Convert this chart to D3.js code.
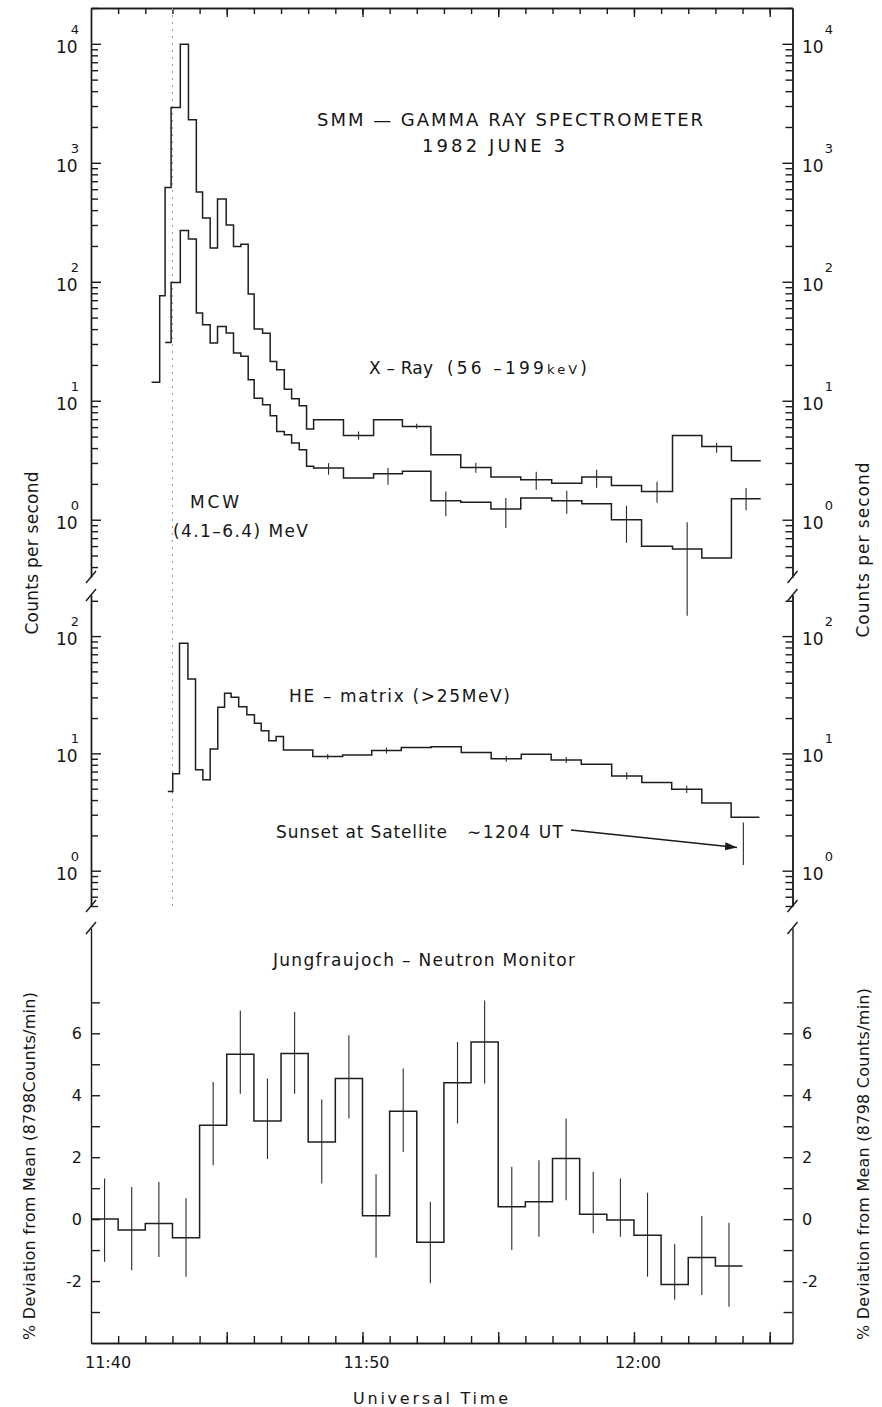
<!doctype html>
<html lang='en'>
<head>
<meta charset='UTF-8'>
<title>SMM Gamma Ray Spectrometer 1982 June 3</title>
<style>
  body { margin: 0; background: #fff; }
  svg { display: block; }
  text { font-family: 'DejaVu Sans', sans-serif; fill: #161616; }
  .domain, .tick line { stroke: #1a1a1a; stroke-width: 1.4; }
  .step { fill: none; stroke: #1e1e1e; stroke-width: 1.5; }
  .err { stroke: #2a2a2a; stroke-width: 1.1; }
  .brk { stroke: #1a1a1a; stroke-width: 1.4; }
</style>
</head>
<body>
<script src='https://d3js.org/d3.v7.min.js'></script>
<script>
  // all times are minutes after 11:40 UT
  const timeTickMinutes = [0, 10, 20]
  const timeTickLabels = ['11:40', '11:50', '12:00']
  const markerMinute = 3

  // SMM GRS bins (16 s, then 65 s)
  const grsEdges = [2.23, 2.53, 2.73, 2.95, 3.29, 3.59, 3.88, 4.11, 4.39, 4.66, 4.98, 5.25, 5.52, 5.79, 6.01, 6.32,
    6.60, 6.84, 7.12, 7.39, 7.67, 7.94, 8.20, 9.30, 10.41, 11.47, 12.52, 13.62, 14.73, 15.83, 16.97, 18.08,
    19.17, 20.28, 21.42, 22.50, 23.59, 24.67]
  const xrayCounts = [14.3, 76.3, 620, 2917, 9940, 2297, 567, 343, 192, 495, 300, 198, 207, 79, 40, 37, 21.4,
    18.2, 12.5, 10.4, 9.08, 5.78, 6.92, 5.11, 6.92, 6.08, 3.52, 2.75, 2.29, 2.17, 2.03, 2.29, 1.94, 1.73,
    5.11, 4.13, 3.13]
  const mcwCounts = [null, null, 30.9, 98.7, 270, 229, 54.6, 43.5, 30.5, 42.1, 37.1, 25.2, 23.6, 15.0, 10.5,
    9.25, 7.48, 5.52, 5.18, 4.41, 3.88, 2.81, 2.72, 2.24, 2.44, 2.55, 1.44, 1.40, 1.23, 1.52, 1.44, 1.36,
    1.0, 0.597, 0.567, 0.477, 1.50]
  // [bin, low, high]
  const xrayErr = [[23, 4.70, 5.52], [25, 5.82, 6.41], [27, 2.48, 3.01], [29, 1.79, 2.53], [31, 1.86, 2.63],
    [33, 1.39, 2.09], [35, 3.66, 4.44]]
  const mcwErr = [[22, 2.39, 2.99], [24, 1.97, 2.72], [26, 1.07, 1.73], [28, 0.85, 1.52], [30, 1.12, 1.75],
    [32, 0.64, 1.31], [34, 0.156, 0.95], [36, 1.20, 1.85]]

  const heEdges = [2.83, 3.01, 3.26, 3.57, 3.85, 4.12, 4.39, 4.67, 4.92, 5.16, 5.44, 5.74, 6.02, 6.27, 6.55,
    6.82, 7.09, 8.17, 9.27, 10.34, 11.43, 12.53, 13.64, 14.74, 15.85, 16.95, 18.06, 19.18, 20.29, 21.39,
    22.50, 23.58, 24.62]
  const heCounts = [4.73, 6.69, 86.7, 43.1, 7.24, 5.95, 10.9, 24.7, 32.5, 30.1, 25.0, 21.3, 18.1, 15.6, 12.8,
    13.9, 10.7, 9.4, 9.7, 10.6, 11.2, 11.4, 10.2, 8.98, 9.84, 8.80, 8.09, 6.43, 5.64, 4.95, 3.77, 2.86]
  const heErr = [[17, 8.9, 9.9], [19, 10.0, 11.2], [23, 8.5, 9.5], [25, 8.3, 9.3], [27, 6.0, 6.9], [29, 4.6, 5.3]]
  const sunsetBar = [24.03, 1.12, 2.58]

  // Jungfraujoch neutron monitor, 1-min bins
  const neutronEdges = [0, 1, 2, 3, 4, 5, 6, 7, 8, 9, 10, 11, 12, 13, 14, 15, 16, 17, 18, 19, 20, 21, 22, 23, 24]
  const neutronDev = [0.0, -0.35, -0.14, -0.60, 3.03, 5.32, 3.17, 5.35, 2.49, 4.54, 0.11, 3.48, -0.75, 4.40,
    5.72, 0.40, 0.56, 1.96, 0.16, -0.03, -0.52, -2.11, -1.24, -1.51]
  const neutronHi = [1.31, 1.04, 1.2, 0.67, 4.43, 6.74, 4.54, 6.69, 3.86, 5.94, 1.45, 4.86, 0.56, 5.72, 7.06,
    1.69, 1.90, 3.25, 1.53, 1.31, 0.85, -0.80, 0.10, -0.12]
  const neutronLo = [-1.38, -1.65, -1.22, -1.86, 1.74, 4.05, 1.94, 4.05, 1.15, 3.25, -1.24, 2.17, -2.07, 3.09,
    4.38, -1.0, -0.57, 0.61, -0.46, -0.57, -1.86, -2.6, -2.45, -2.83]
  const neutronTicks = [-3, -2, -1, 0, 1, 2, 3, 4, 5, 6, 7]
  const neutronTickLabels = [6, 4, 2, 0, -2]

  const W = 882, H = 1407

  const svg = d3.select('body').append('svg')
    .attr('width', W)
    .attr('height', H)

  const x = d3.scaleLinear().domain([0, 25.84]).range([91, 792.5])
  const yTop = d3.scaleLog().domain([0.33, 2e4]).range([577, 8])
  const yMid = d3.scaleLog().domain([0.5, 224]).range([906, 595])
  const yBot = d3.scaleLinear().domain([-4, 9.4]).range([1343, 928])

  const left = x.range()[0], right = x.range()[1]

  //// x axes (top and bottom frame) ////
  const minutes = d3.range(1, 26)
  const fives = minutes.filter(m => m % 5 === 0)

  svg.append('g')
    .attr('transform', 'translate(0,8)')
    .call(d3.axisBottom(x).tickValues(minutes).tickSize(6).tickSizeOuter(0).tickFormat(''))
  svg.append('g')
    .attr('transform', 'translate(0,8)')
    .call(d3.axisBottom(x).tickValues(fives).tickSize(9).tickSizeOuter(0).tickFormat(''))

  svg.append('g')
    .attr('transform', 'translate(0,1343)')
    .call(d3.axisBottom(x).tickValues(minutes).tickSize(-7).tickSizeOuter(0).tickFormat(''))
  svg.append('g')
    .attr('transform', 'translate(0,1343)')
    .call(d3.axisBottom(x).tickValues(fives).tickSize(-11).tickSizeOuter(0).tickFormat(''))

  svg.selectAll('text.tlab')
    .data(timeTickMinutes)
    .enter()
    .append('text')
    .attr('class', 'tlab')
    .attr('x', (d, i) => i === 0 ? x(d) - 6 : x(d) + 4)
    .attr('y', 1368)
    .attr('text-anchor', (d, i) => i === 0 ? 'start' : 'middle')
    .style('font-size', '16px')
    .text((d, i) => timeTickLabels[i])

  svg.append('text')
    .attr('x', 353).attr('y', 1404)
    .attr('textLength', 155)
    .style('font-size', '16px')
    .text('Universal Time')

  //// log y axes ////
  function decadeLabel(xx, yy, e, shift) {
    const t = svg.append('text').attr('x', xx).attr('y', yy + 9)
      .style('font-size', '17px').text('10')
    t.append('tspan').attr('dx', shift).attr('dy', -19)
      .style('font-size', '13px').text(e)
  }

  function logAxes(scale) {
    const isMajor = v => Math.abs(Math.log10(v) - Math.round(Math.log10(v))) < 1e-9
    const ticks = scale.ticks()
    const major = ticks.filter(isMajor)
    const minor = ticks.filter(v => !isMajor(v))

    svg.append('g').attr('transform', `translate(${left},0)`)
      .call(d3.axisLeft(scale).tickValues(minor).tickSize(-7).tickSizeOuter(0).tickFormat(''))
    svg.append('g').attr('transform', `translate(${left},0)`)
      .call(d3.axisLeft(scale).tickValues(major).tickSize(-10).tickSizeOuter(0).tickFormat(''))
    svg.append('g').attr('transform', `translate(${right},0)`)
      .call(d3.axisRight(scale).tickValues(minor).tickSize(-7).tickSizeOuter(0).tickFormat(''))
    svg.append('g').attr('transform', `translate(${right},0)`)
      .call(d3.axisRight(scale).tickValues(major).tickSize(-10).tickSizeOuter(0).tickFormat(''))

    major.forEach(v => {
      const e = Math.round(Math.log10(v))
      decadeLabel(56, scale(v), e, -7)
      decadeLabel(802, scale(v), e, 1)
    })
  }
  logAxes(yTop)
  logAxes(yMid)

  //// linear neutron axis ////
  svg.append('g').attr('transform', `translate(${left},0)`)
    .call(d3.axisLeft(yBot).tickValues(neutronTicks).tickSize(-9).tickSizeOuter(0).tickFormat(''))
  svg.append('g').attr('transform', `translate(${right},0)`)
    .call(d3.axisRight(yBot).tickValues(neutronTicks).tickSize(-9).tickSizeOuter(0).tickFormat(''))

  neutronTickLabels.forEach(v => {
    svg.append('text').attr('x', 82).attr('y', yBot(v) + 6).attr('text-anchor', 'end')
      .style('font-size', '16px').text(v)
    svg.append('text').attr('x', 802).attr('y', yBot(v) + 6)
      .style('font-size', '16px').text(v)
  })

  //// axis breaks ////
  const breaks = [yTop.range()[0], yMid.range()[1], yMid.range()[0], yBot.range()[1]]
  ;[left, right].forEach(xx => {
    svg.selectAll(null)
      .data(breaks)
      .enter()
      .append('line')
      .attr('class', 'brk')
      .attr('x1', xx - 5).attr('y1', d => d + 6)
      .attr('x2', xx + 5).attr('y2', d => d - 6)
  })

  //// onset marker ////
  svg.append('line')
    .attr('x1', x(markerMinute)).attr('x2', x(markerMinute))
    .attr('y1', yTop.range()[1]).attr('y2', yMid.range()[0])
    .attr('stroke', '#9a9a9a')
    .attr('stroke-width', 1)
    .attr('stroke-dasharray', '2,5')

  //// histograms ////
  function stepPoints(edges, values) {
    const pts = values.map((v, i) => [edges[i], v])
    pts.push([edges[values.length], values[values.length - 1]])
    return pts
  }
  function stepLine(y) {
    return d3.line()
      .defined(d => d[1] != null)
      .x(d => x(d[0]))
      .y(d => y(d[1]))
      .curve(d3.curveStepAfter)
  }
  function errBars(edges, errs, y) {
    svg.append('g').selectAll('line')
      .data(errs)
      .enter()
      .append('line')
      .attr('class', 'err')
      .attr('x1', d => x((edges[d[0]] + edges[d[0] + 1]) / 2))
      .attr('x2', d => x((edges[d[0]] + edges[d[0] + 1]) / 2))
      .attr('y1', d => y(d[1]))
      .attr('y2', d => y(d[2]))
  }

  svg.append('path').attr('class', 'step').attr('d', stepLine(yTop)(stepPoints(grsEdges, xrayCounts)))
  svg.append('path').attr('class', 'step').attr('d', stepLine(yTop)(stepPoints(grsEdges, mcwCounts)))
  errBars(grsEdges, xrayErr, yTop)
  errBars(grsEdges, mcwErr, yTop)

  svg.append('path').attr('class', 'step').attr('d', stepLine(yMid)(stepPoints(heEdges, heCounts)))
  errBars(heEdges, heErr, yMid)
  svg.append('line').attr('class', 'err')
    .attr('x1', x(sunsetBar[0])).attr('x2', x(sunsetBar[0]))
    .attr('y1', yMid(sunsetBar[1])).attr('y2', yMid(sunsetBar[2]))

  svg.append('path').attr('class', 'step').attr('d', stepLine(yBot)(stepPoints(neutronEdges, neutronDev)))
  svg.append('g').selectAll('line')
    .data(neutronDev)
    .enter()
    .append('line')
    .attr('class', 'err')
    .attr('x1', (d, i) => x(neutronEdges[i] + 0.5))
    .attr('x2', (d, i) => x(neutronEdges[i] + 0.5))
    .attr('y1', (d, i) => yBot(neutronLo[i]))
    .attr('y2', (d, i) => yBot(neutronHi[i]))

  //// annotations ////
  function label(txt, xx, yy, len, size) {
    return svg.append('text').attr('x', xx).attr('y', yy)
      .attr('textLength', len).attr('lengthAdjust', 'spacing')
      .style('font-size', (size || 17) + 'px').text(txt)
  }
  label('SMM — GAMMA RAY SPECTROMETER', 317, 126, 386, 18)
  label('1982  JUNE  3', 422, 152, 143, 18)
  label('X – Ray', 369, 374, 64)
  const xr = label('(56 –199', 447, 374, 140)
  xr.append('tspan').style('font-size', '13px').text('keV')
  xr.append('tspan').text(')')
  label('MCW', 190, 508, 49)
  label('(4.1–6.4) MeV', 173, 537, 135)
  label('HE – matrix (>25MeV)', 289, 702, 221)
  label('Sunset at Satellite', 276, 838, 171)
  label('∼1204 UT', 467, 838, 96)
  label('Jungfraujoch – Neutron Monitor', 273, 966, 302)

  svg.append('defs').append('marker')
    .attr('id', 'head')
    .attr('viewBox', '0 0 12 8')
    .attr('refX', 12).attr('refY', 4)
    .attr('markerWidth', 12).attr('markerHeight', 8)
    .attr('markerUnits', 'userSpaceOnUse')
    .attr('orient', 'auto')
    .append('path').attr('d', 'M0,0L12,4L0,8Z').attr('fill', '#1a1a1a')
  svg.append('line')
    .attr('x1', 571).attr('y1', 830)
    .attr('x2', 737).attr('y2', 847.5)
    .attr('stroke', '#1a1a1a').attr('stroke-width', 1.3)
    .attr('marker-end', 'url(#head)')

  //// axis titles ////
  function vlabel(txt, xx, yy, len, size) {
    svg.append('text')
      .attr('transform', `translate(${xx},${yy}) rotate(-90)`)
      .attr('text-anchor', 'middle')
      .attr('textLength', len).attr('lengthAdjust', 'spacing')
      .style('font-size', size + 'px')
      .text(txt)
  }
  vlabel('Counts per second', 38, 553, 163, 17)
  vlabel('Counts  per  second', 869, 550, 175, 17)
  vlabel('% Deviation from Mean (8798Counts/min)', 35, 1166, 348, 16)
  vlabel('% Deviation from Mean (8798 Counts/min)', 869, 1164, 352, 16)
</script>
</body>
</html>
